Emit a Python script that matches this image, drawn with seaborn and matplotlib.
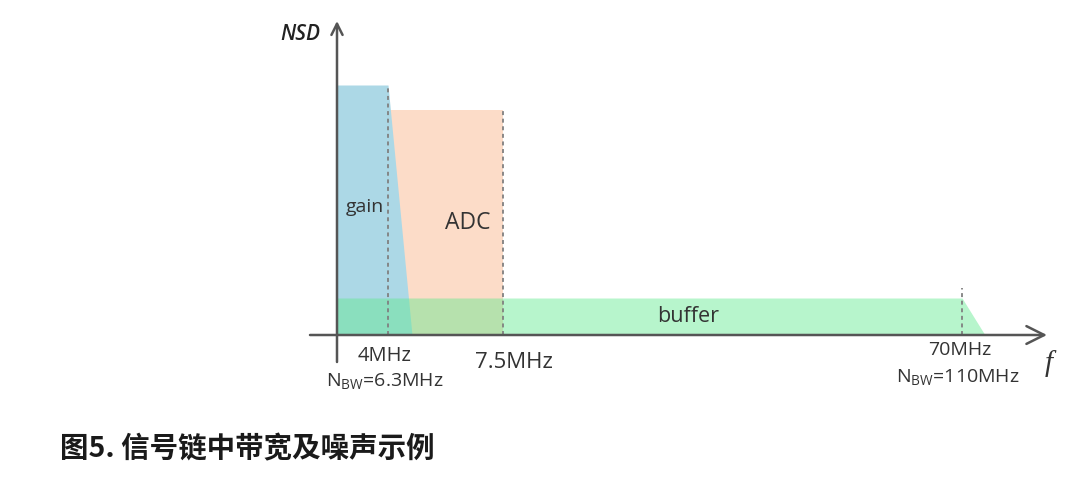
import numpy as np
import pandas as pd
import seaborn as sns
import matplotlib.pyplot as plt

# schematic units: x ~ frequency position (not to scale), y ~ noise spectral density
gain_x = [0, 5.1, 7.5]
gain_nsd = [25.0, 25.0, 0.0]
adc_x = [5.1, 16.6]
adc_nsd = [22.5, 22.5]
buffer_x = [0, 62.5, 64.8]
buffer_nsd = [3.7, 3.7, 0.0]

# dashed markers at the band corners
marker_x = [5.1, 16.6, 62.5]
marker_top = [25.0, 22.5, 4.7]

block_names = ['gain', 'ADC', 'buffer']
freq_labels = ['4MHz', '7.5MHz', '70MHz']
nbw_labels = ['N$_{\\mathrm{BW}}$=6.3MHz', 'N$_{\\mathrm{BW}}$=110MHz']
caption = '图5. 信号链中带宽及噪声示例'

sns.set_theme(style='white')
plt.rcParams['font.family'] = ['Open Sans', 'DejaVu Sans']
plt.rcParams['mathtext.fontset'] = 'custom'
plt.rcParams['mathtext.rm'] = 'Open Sans'

fig = plt.figure(figsize=(10.8, 4.79), dpi=100)
ax = fig.add_axes([0, 0, 1, 1])
ax.set_xlim(-33.7, 74.3)
ax.set_ylim(-14.4, 33.5)
ax.axis('off')

# filled bands
ax.fill_between([adc_x[0], adc_x[0], adc_x[1], adc_x[1]],
                [0, adc_nsd[0], adc_nsd[1], 0], 0, color='#fcdcc8', lw=0)
ax.fill_between(gain_x, gain_nsd, 0, color='#acd8e6', lw=0)
ax.fill_between(buffer_x, buffer_nsd, 0, color='#61e98e', alpha=0.45, lw=0)

# dashed corner lines
marks = pd.DataFrame({
    'x': np.repeat(marker_x, 2),
    'y': np.ravel([[0, t] for t in marker_top]),
    'edge': np.repeat(range(len(marker_x)), 2),
})
sns.lineplot(data=marks, x='x', y='y', units='edge', estimator=None, sort=False,
             color='#808080', lw=1.3, dashes=False, ax=ax, legend=False)
for ln in ax.get_lines():
    ln.set_dashes((2.2, 2))

# axes arrows
axis_col = '#555555'
ax.annotate('', xy=(71.0, 0), xytext=(-2.7, 0),
            arrowprops=dict(arrowstyle='->', lw=1.8, color=axis_col,
                            mutation_scale=32, shrinkA=0, shrinkB=0))
ax.annotate('', xy=(0, 31.4), xytext=(0, -2.7),
            arrowprops=dict(arrowstyle='->', lw=1.8, color=axis_col,
                            mutation_scale=20, shrinkA=0, shrinkB=0))

txt = '#333333'
ax.text(-3.7, 30.0, 'NSD', ha='center', va='center', fontsize=15,
        style='italic', fontweight='semibold', color='#222222')
ax.text(71.2, -2.9, 'f', ha='center', va='center', fontsize=21,
        style='italic', family='Liberation Serif', color=txt)

ax.text(2.8, 12.8, block_names[0], ha='center', va='center', fontsize=14, color=txt)
ax.text(13.1, 11.2, block_names[1], ha='center', va='center', fontsize=16.5, color=txt)
ax.text(35.1, 1.8, block_names[2], ha='center', va='center', fontsize=15.5, color=txt)

ax.text(4.8, -2.1, freq_labels[0], ha='center', va='center', fontsize=14.5, color=txt)
ax.text(17.7, -2.7, freq_labels[1], ha='center', va='center', fontsize=16, color=txt)
ax.text(62.3, -1.5, freq_labels[2], ha='center', va='center', fontsize=14, color=txt)
ax.text(4.8, -4.7, nbw_labels[0], ha='center', va='center', fontsize=14, color=txt)
ax.text(62.1, -4.25, nbw_labels[1], ha='center', va='center', fontsize=14, color=txt)

fig.text(60 / 1080, 1 - 449 / 479, caption, ha='left', va='center', fontsize=20.5,
         fontweight='bold', color='#1a1a1a',
         family=['Noto Sans CJK SC', 'DejaVu Sans'])

fig.savefig('out.png', dpi=100)
